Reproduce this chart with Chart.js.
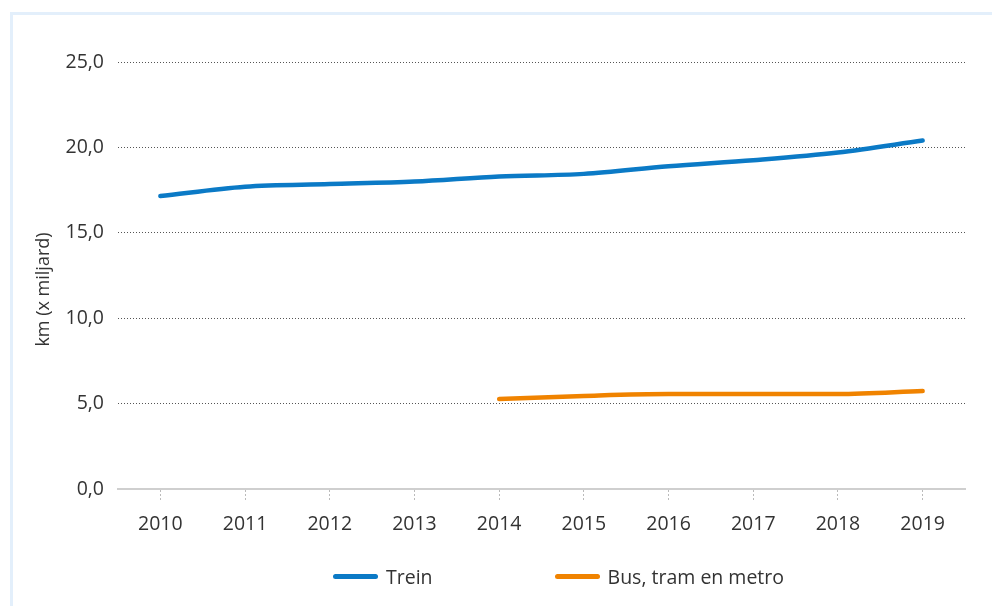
<!DOCTYPE html>
<html>
<head>
<meta charset="utf-8">
<script src="https://cdn.jsdelivr.net/npm/chart.js@4"></script>
<style>
    body { margin: 0; background: #fff; }
    #wrap { position: relative; width: 992px; height: 606px; overflow: hidden; }
    #frame {
        position: absolute; left: 10px; top: 12px; right: 0; bottom: 0;
        border-left: 3px solid #e3effb; border-top: 3px solid #e3effb;
    }
    #chart { position: absolute; left: 0; top: 0; }
    #legend {
        position: absolute; left: 333px; top: 563px;
        display: flex; align-items: center;
        font-family: "Open Sans", sans-serif; font-size: 19.5px; color: #333;
    }
    .item { display: flex; align-items: center; margin-right: 122px; }
    .swatch { width: 45px; height: 5px; border-radius: 3px; margin-right: 8px; }
</style>
</head>
<body>
<div id="wrap">
    <div id="frame"></div>
    <canvas id="chart" width="992" height="606"></canvas>
    <div id="legend"></div>
</div>
<script>
// Reizigerskilometers openbaar vervoer

const years = ['2010', '2011', '2012', '2013', '2014', '2015', '2016', '2017', '2018', '2019'];
const trein = [17.15, 17.7, 17.85, 18.0, 18.3, 18.45, 18.9, 19.25, 19.7, 20.4];
const busTramMetro = [null, null, null, null, 5.27, 5.45, 5.56, 5.56, 5.56, 5.74];
const seriesNames = ['Trein', 'Bus, tram en metro'];
const seriesColors = ['#0b7ac6', '#f08300'];

const textColor = '#333';
const fontFamily = '"Open Sans", sans-serif';

function formatTick(v) {
    return v.toFixed(1).replace('.', ',');
}

// Legend built from the chart's datasets
const htmlLegend = {
    id: 'htmlLegend',
    afterUpdate(chart) {
        const box = document.getElementById('legend');
        box.innerHTML = '';
        chart.data.datasets.forEach(ds => {
            const item = document.createElement('div');
            item.className = 'item';
            const sw = document.createElement('span');
            sw.className = 'swatch';
            sw.style.background = ds.borderColor;
            const txt = document.createElement('span');
            txt.textContent = ds.label;
            item.appendChild(sw);
            item.appendChild(txt);
            box.appendChild(item);
        });
    }
};

new Chart(document.getElementById('chart'), {
    type: 'line',
    data: {
        labels: years,
        datasets: [
            {
                label: seriesNames[0],
                data: trein,
                borderColor: seriesColors[0],
                backgroundColor: seriesColors[0],
                borderWidth: 4.5,
                borderCapStyle: 'round',
                pointRadius: 0,
                cubicInterpolationMode: 'monotone'
            },
            {
                label: seriesNames[1],
                data: busTramMetro,
                borderColor: seriesColors[1],
                backgroundColor: seriesColors[1],
                borderWidth: 4.5,
                borderCapStyle: 'round',
                pointRadius: 0,
                cubicInterpolationMode: 'monotone'
            }
        ]
    },
    options: {
        responsive: false,
        animation: false,
        layout: {
            padding: { left: 0, right: 27, top: 62, bottom: 0 }
        },
        plugins: {
            legend: { display: false },
            tooltip: { enabled: false }
        },
        scales: {
            x: {
                offset: true,
                afterFit: scale => { scale.height = 117; },
                grid: {
                    drawOnChartArea: false,
                    drawTicks: true,
                    tickLength: 11,
                    tickColor: '#bbb',
                    tickBorderDash: [2, 2],
                    tickWidth: 1
                },
                border: { display: true, color: '#cfcfcf', width: 2 },
                ticks: {
                    color: textColor,
                    padding: 13,
                    font: { family: fontFamily, size: 19.5 }
                }
            },
            y: {
                min: 0,
                max: 25,
                afterFit: scale => { scale.width = 118; },
                ticks: {
                    stepSize: 5,
                    color: textColor,
                    padding: 14,
                    font: { family: fontFamily, size: 19.5 },
                    callback: v => formatTick(v)
                },
                grid: {
                    drawTicks: false,
                    color: ctx => ctx.tick && ctx.tick.value === 0 ? 'rgba(0,0,0,0)' : '#555',
                    lineWidth: 1
                },
                border: { display: false, dash: [1, 2] },
                title: {
                    display: true,
                    text: 'km (x miljard)      ',
                    color: textColor,
                    font: { family: fontFamily, size: 18 },
                    padding: { top: 33, bottom: 0 }
                }
            }
        }
    },
    plugins: [htmlLegend]
});
</script>
</body>
</html>
